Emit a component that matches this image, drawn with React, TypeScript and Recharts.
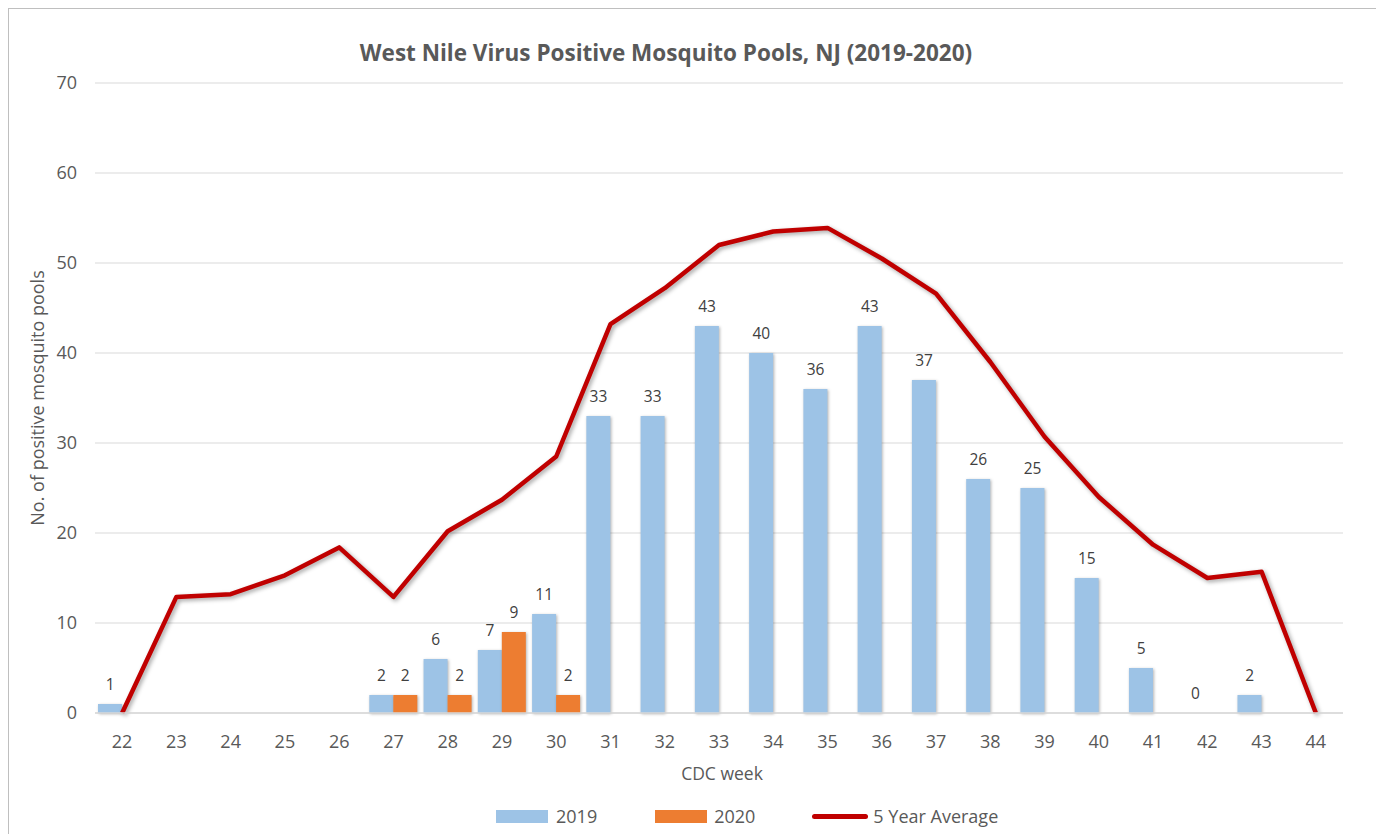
import React from 'react';
import { ComposedChart, Bar, Line, XAxis, YAxis, CartesianGrid, LabelList } from 'recharts';

const weeks = ['22','23','24','25','26','27','28','29','30','31','32','33','34','35','36','37','38','39','40','41','42','43','44'];
const y2019 = [1, null, null, null, null, 2, 6, 7, 11, 33, 33, 43, 40, 36, 43, 37, 26, 25, 15, 5, 0, 2, null];
const y2020 = [null, null, null, null, null, 2, 2, 9, 2, null, null, null, null, null, null, null, null, null, null, null, null, null, null];
const avg5 = [0, 12.9, 13.2, 15.3, 18.4, 12.9, 20.2, 23.7, 28.5, 43.2, 47.2, 52.0, 53.5, 53.9, 50.5, 46.6, 39.0, 30.7, 24.0, 18.7, 15.0, 15.7, 0];
const yTicks = [0, 10, 20, 30, 40, 50, 60, 70];

const data = weeks.map((w, i) => ({ week: w, y2019: y2019[i], y2020: y2020[i], avg: avg5[i] }));

const FONT = '"Open Sans", "Noto Sans", sans-serif';
const TEXT = '#595959';
const C2019 = '#9dc3e6';
const C2020 = '#ed7d31';
const CAVG = '#c00000';
const BAR = 24;

const renderBarLabel = (props: any) => {
  const { x, y, width, value } = props;
  if (value === null || value === undefined) return null;
  return (
    <text x={x + width / 2} y={y - 14} textAnchor="middle" fill="#404040" fontSize={15.5} fontFamily={FONT}>
      {value}
    </text>
  );
};

// 2019 labels drawn at the 2019 bar slot (left half of each category band)
const render2019Label = (props: any) => {
  const { x, y, value } = props;
  if (value === null || value === undefined) return null;
  return (
    <text x={x - BAR / 2} y={y - 14} textAnchor="middle" fill="#404040" fontSize={15.5} fontFamily={FONT}>
      {value}
    </text>
  );
};

export default function App() {
  return (
    <div style={{ position: 'relative', width: 1370, height: 830, border: '1px solid #bfbfbf', background: '#fff', fontFamily: FONT }}>
      <style>{`
        .avg-line .recharts-line-curve { filter: drop-shadow(2px 2px 2px rgba(0,0,0,0.35)); }
        .recharts-bar-rectangle path { filter: drop-shadow(1px 1px 1.5px rgba(0,0,0,0.3)); }
      `}</style>
      <div style={{ position: 'absolute', left: 657, top: 43, transform: 'translate(-50%, -50%)', whiteSpace: 'nowrap', fontSize: 22.5, fontWeight: 700, color: TEXT }}>
        West Nile Virus Positive Mosquito Pools, NJ (2019-2020)
      </div>
      <ComposedChart
        width={1370}
        height={826}
        data={data}
        margin={{ top: 74, right: 36, bottom: 82, left: 26 }}
        barGap={0}
        style={{ position: 'absolute', left: 0, top: 0 }}
      >
        <CartesianGrid vertical={false} stroke="#d9d9d9" strokeWidth={1} />
        <XAxis
          dataKey="week"
          height={40}
          tickLine={false}
          axisLine={{ stroke: '#d9d9d9', strokeWidth: 1.5 }}
          tickSize={0}
          tickMargin={22}
          tick={{ fill: TEXT, fontSize: 18, fontFamily: FONT }}
          interval={0}
        />
        <YAxis
          width={60}
          domain={[0, 70]}
          ticks={yTicks}
          axisLine={false}
          tickLine={false}
          tickSize={0}
          tickMargin={18}
          tick={{ fill: TEXT, fontSize: 18, fontFamily: FONT }}
        />
        <Bar dataKey="y2019" fill={C2019} barSize={BAR} isAnimationActive={false} />
        <Bar dataKey="y2020" fill={C2020} barSize={BAR} isAnimationActive={false}>
          <LabelList dataKey="y2020" content={renderBarLabel} />
        </Bar>
        <Line className="avg-line" dataKey="avg" stroke={CAVG} strokeWidth={4.5} dot={false} activeDot={false} type="linear" strokeLinejoin="round" isAnimationActive={false} />
        <Line dataKey="y2019" stroke="none" dot={false} activeDot={false} legendType="none" isAnimationActive={false}>
          <LabelList dataKey="y2019" content={render2019Label} />
        </Line>
      </ComposedChart>
      <div style={{ position: 'absolute', left: 28, top: 389, transform: 'translate(-50%, -50%) rotate(-90deg)', whiteSpace: 'nowrap', fontSize: 18, color: TEXT }}>
        No. of positive mosquito pools
      </div>
      <div style={{ position: 'absolute', left: 713, top: 764, transform: 'translate(-50%, -50%)', whiteSpace: 'nowrap', fontSize: 17.5, color: TEXT }}>
        CDC week
      </div>
      <div style={{ position: 'absolute', left: 487, top: 797, height: 20, display: 'flex', alignItems: 'center', fontSize: 18, color: TEXT, whiteSpace: 'nowrap' }}>
        <span style={{ display: 'inline-block', width: 52, height: 13, background: C2019, marginRight: 8 }} />
        <span style={{ marginRight: 58 }}>2019</span>
        <span style={{ display: 'inline-block', width: 52, height: 13, background: C2020, marginRight: 7 }} />
        <span style={{ marginRight: 57 }}>2020</span>
        <span style={{ display: 'inline-block', width: 56, height: 5, borderRadius: 3, background: CAVG, marginRight: 5 }} />
        <span>5 Year Average</span>
      </div>
    </div>
  );
}
